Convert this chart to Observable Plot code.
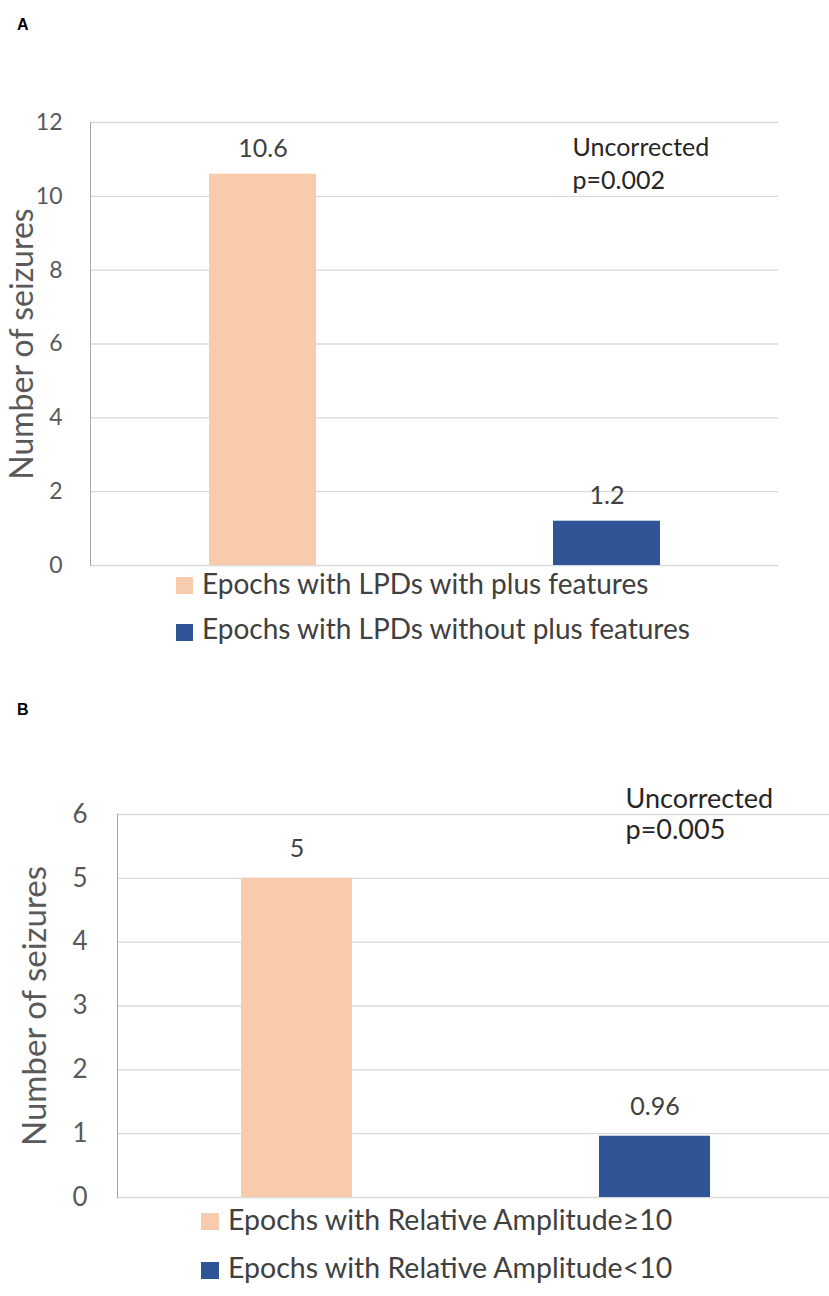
<!DOCTYPE html>
<html><head><meta charset="utf-8">
<script src="https://cdn.jsdelivr.net/npm/d3@7"></script>
<script src="https://cdn.jsdelivr.net/npm/@observablehq/plot@0.6"></script>
<style>
body{margin:0;background:#fff;}
#root{position:relative;width:829px;height:1296px;overflow:hidden;font-family:Lato,sans-serif;background:#fff;}
.wrap{position:absolute;left:0;}
.panel{position:absolute;font-family:"Liberation Sans",Arial,sans-serif;font-weight:bold;font-size:16px;line-height:16px;color:#000;}
.leg{position:absolute;font-family:Lato,sans-serif;color:#404040;white-space:nowrap;}
.sw{position:absolute;}
</style></head><body><div id="root"></div>
<script>
// ---- data ----
const categoriesA = ["Epochs with LPDs with plus features", "Epochs with LPDs without plus features"];
const valuesA = [10.6, 1.2];
const labelsA = ["10.6", "1.2"];
const ticksA = [0, 2, 4, 6, 8, 10, 12];
const noteA = "Uncorrected\np=0.002";

const categoriesB = ["Epochs with Relative Amplitude\u226510", "Epochs with Relative Amplitude<10"];
const valuesB = [5, 0.96];
const labelsB = ["5", "0.96"];
const ticksB = [0, 1, 2, 3, 4, 5, 6];
const noteB = "Uncorrected\np=0.005";

const colors = ["#F8CBAD", "#2F5597"];
const yLabel = "Number of seizures";

const root = document.getElementById("root");

function chart(o) {
  const data = o.cats.map((c, i) => ({cat: c, value: o.vals[i], label: o.labels[i]}));
  return Plot.plot({
    width: 829, height: o.height,
    marginTop: o.mt, marginBottom: o.mb, marginLeft: o.ml, marginRight: o.mr,
    style: {fontFamily: "Lato, sans-serif", background: "transparent", overflow: "visible"},
    x: {domain: o.cats, paddingInner: 0.69, paddingOuter: 0.345, axis: null},
    y: {domain: [0, d3.max(o.ticks)], axis: null},
    color: {domain: o.cats, range: colors},
    marks: [
      Plot.ruleY(o.ticks, {stroke: "#d9d9d9", strokeWidth: 1.3}),
      Plot.frame({anchor: "left", stroke: "#a6a6a6"}),
      Plot.barY(data, {x: "cat", y: "value", fill: "cat"}),
      Plot.axisY({ticks: o.ticks, tickFormat: d => String(d), tickSize: 0, tickPadding: o.tp, fontSize: o.tfs, color: "#595959", label: null}),
      Plot.text(data, {x: "cat", y: "value", text: "label", lineAnchor: "bottom", dy: -o.vgap, fontSize: o.vfs, fill: "#404040"}),
      Plot.text([yLabel], {frameAnchor: "left", textAnchor: "middle", lineAnchor: "middle", rotate: -90, dx: -o.ylx, fontSize: o.yfs, fill: "#595959"}),
      Plot.text([o.note], {frameAnchor: "top-left", textAnchor: "start", lineAnchor: "top", dx: o.nx, dy: o.ny, fontSize: o.nfs, lineHeight: o.nlh, fill: "#262626"})
    ]
  });
}

function place(el, top) {
  const w = document.createElement("div");
  w.className = "wrap";
  w.style.top = top + "px";
  w.appendChild(el);
  root.appendChild(w);
}

function panelLabel(t, top) {
  const d = document.createElement("div");
  d.className = "panel";
  d.style.left = "17px";
  d.style.top = top + "px";
  d.textContent = t;
  root.appendChild(d);
}

function legendItem(text, color, sx, sy, sw, sh, tx, baseline, fs) {
  const s = document.createElement("div");
  s.className = "sw";
  Object.assign(s.style, {left: sx + "px", top: sy + "px", width: sw + "px", height: sh + "px", background: color});
  root.appendChild(s);
  const t = document.createElement("div");
  t.className = "leg";
  Object.assign(t.style, {left: tx + "px", top: (baseline - 0.987 * fs) + "px", fontSize: fs + "px", lineHeight: (1.2 * fs) + "px"});
  t.textContent = text;
  root.appendChild(t);
}

panelLabel("A", 16.5);
place(chart({cats: categoriesA, vals: valuesA, labels: labelsA, ticks: ticksA, note: noteA,
  height: 600, mt: 122, mb: 35, ml: 90, mr: 51, tp: 28, tfs: 23, vgap: 17, vfs: 25,
  ylx: 68, yfs: 32, nx: 482, ny: 10, nfs: 25, nlh: 1.32}), 0);
legendItem(categoriesA[0], colors[0], 176, 577, 17, 17, 202, 595, 28);
legendItem(categoriesA[1], colors[1], 176, 624, 17, 17, 202, 640, 28);

panelLabel("B", 701.5);
place(chart({cats: categoriesB, vals: valuesB, labels: labelsB, ticks: ticksB, note: noteB,
  height: 570, mt: 164, mb: 23, ml: 117, mr: -5, tp: 30, tfs: 26, vgap: 21, vfs: 25,
  ylx: 82, yfs: 33, nx: 508, ny: -29, nfs: 27, nlh: 1.15}), 650);
legendItem(categoriesB[0], colors[0], 201, 1213, 18, 17, 228, 1230, 28.5);
legendItem(categoriesB[1], colors[1], 201, 1262, 18, 17, 228, 1278, 28.5);
</script></body></html>
